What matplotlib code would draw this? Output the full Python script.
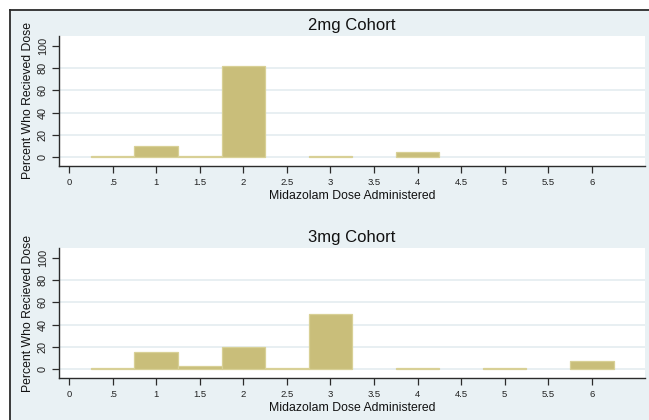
import matplotlib
matplotlib.use('Agg')
import matplotlib.pyplot as plt
from matplotlib.patches import Rectangle
from matplotlib.lines import Line2D

plt.rcParams['font.family'] = ['Liberation Sans', 'DejaVu Sans']

# dose levels (mg) and percent of patients per cohort
doses = [0.5, 1, 1.5, 2, 2.5, 3, 3.5, 4, 4.5, 5, 5.5, 6]
pct_2mg = [1, 10, 1, 82, 0, 1, 0, 4.3, 0, 0, 0, 0]
pct_3mg = [1, 15.5, 3, 20, 1, 49.5, 0, 1, 0, 1, 0, 7.2]

cohorts = ['2mg Cohort', '3mg Cohort']
xticks = [0, 0.5, 1, 1.5, 2, 2.5, 3, 3.5, 4, 4.5, 5, 5.5, 6]
xtick_labels = ['0', '.5', '1', '1.5', '2', '2.5', '3', '3.5', '4', '4.5', '5', '5.5', '6']
yticks = [0, 20, 40, 60, 80, 100]

bar_fill = '#c9be7a'
bar_edge = '#d8d096'
bg = '#e9f1f4'
axis_col = '#2b2b2b'

W, H = 649, 420
fig = plt.figure(figsize=(W / 100, H / 100), dpi=100)
fig.patch.set_facecolor('white')

# graph region with the dark border at top/left
x0, y0 = 10 / W, 1 - 10 / H
fig.add_artist(Rectangle((x0, 0), 1 - x0, y0, transform=fig.transFigure,
                         facecolor=bg, edgecolor='none', zorder=-2))
fig.add_artist(Line2D([x0, 1], [y0, y0], transform=fig.transFigure, color=axis_col, lw=1.3, zorder=-1))
fig.add_artist(Line2D([x0, x0], [0, y0], transform=fig.transFigure, color=axis_col, lw=1.3, zorder=-1))

# plot regions in pixels: (top, bottom)
panels = [(36, 166), (248, 378)]
left, right = 59, 645

for (top, bot), name, vals in zip(panels, cohorts, [pct_2mg, pct_3mg]):
    ax = fig.add_axes([left / W, 1 - bot / H, (right - left) / W, (bot - top) / H])
    ax.set_facecolor('white')

    xs = [d for d, v in zip(doses, vals) if v > 0]
    hs = [v for v in vals if v > 0]
    ax.bar(xs, hs, width=0.5, color=bar_fill, edgecolor=bar_edge, linewidth=0.9, zorder=3)

    for v in yticks[:-1]:
        ax.axhline(v, color='#e2ebef', lw=1.1, zorder=1)

    ax.set_xlim(-0.115, 6.61)
    ax.set_ylim(-8.1, 109)
    ax.set_xticks(xticks)
    ax.set_xticklabels(xtick_labels)
    ax.set_yticks(yticks)
    ax.tick_params(axis='both', direction='out', length=5, width=0.9, color=axis_col,
                   labelcolor='#222222')
    ax.tick_params(axis='x', pad=3.5, labelsize=6.8)
    ax.tick_params(axis='y', pad=3, labelsize=7.8)
    for lab in ax.get_yticklabels():
        lab.set_rotation(90)
        lab.set_va('center')

    for s in ['top', 'right']:
        ax.spines[s].set_visible(False)
    for s in ['left', 'bottom']:
        ax.spines[s].set_color(axis_col)
        ax.spines[s].set_linewidth(1.0)

    ax.set_title(name, fontsize=12, pad=4, color='#111111')
    ax.set_xlabel('Midazolam Dose Administered', fontsize=8.8, labelpad=2, color='#111111')
    ax.set_ylabel('Percent Who Recieved Dose', fontsize=8.8, labelpad=3, color='#111111')

fig.savefig('out.png', dpi=100, facecolor=fig.get_facecolor())
